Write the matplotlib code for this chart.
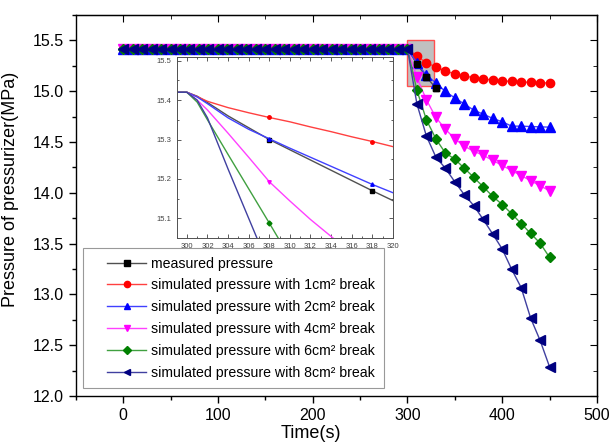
import matplotlib
matplotlib.use("Agg")
import matplotlib.pyplot as plt
from matplotlib.ticker import MultipleLocator
from matplotlib.patches import Rectangle
from matplotlib.legend_handler import HandlerLine2D

plt.rcParams['font.family'] = ['Liberation Sans', 'DejaVu Sans']

# ---------------- data ----------------
steady_time = [0, 10, 20, 30, 40, 50, 60, 70, 80, 90, 100, 110, 120, 130, 140, 150,
               160, 170, 180, 190, 200, 210, 220, 230, 240, 250, 260, 270, 280, 290, 300]
steady_pressure = [15.42, 15.42, 15.42, 15.42, 15.42, 15.42, 15.42, 15.42, 15.42, 15.42,
                   15.42, 15.42, 15.42, 15.42, 15.42, 15.42, 15.42, 15.42, 15.42, 15.42,
                   15.42, 15.42, 15.42, 15.42, 15.42, 15.42, 15.42, 15.42, 15.42, 15.42, 15.42]

measured_time = [310, 320, 330]
measured_after = [15.27, 15.141, 15.031]

break_time = [310, 320, 330, 340, 350, 360, 370, 380, 390, 400, 410, 420, 430, 440, 450]
sim_1cm = [15.346, 15.280, 15.240, 15.200, 15.171, 15.151, 15.134, 15.121, 15.111,
           15.101, 15.098, 15.091, 15.088, 15.084, 15.081]
sim_2cm = [15.280, 15.157, 15.084, 14.998, 14.935, 14.875, 14.814, 14.775, 14.733,
           14.700, 14.657, 14.657, 14.653, 14.650, 14.647]
sim_4cm = [15.136, 14.917, 14.743, 14.627, 14.532, 14.460, 14.410, 14.370, 14.320,
           14.270, 14.220, 14.170, 14.120, 14.070, 14.020]
sim_6cm = [15.010, 14.720, 14.532, 14.393, 14.332, 14.243, 14.153, 14.059, 13.966,
           13.885, 13.795, 13.698, 13.601, 13.505, 13.365]
sim_8cm = [14.876, 14.560, 14.353, 14.243, 14.109, 13.982, 13.875, 13.738, 13.595,
           13.448, 13.248, 13.068, 12.768, 12.548, 12.287]

# inset (zoom of 299-320 s)
inset_time = [299, 300, 301, 302, 304, 306, 308, 310, 312, 314, 316, 318, 320]
inset_measured = [15.42, 15.42, 15.41, 15.394, 15.36, 15.33, 15.300, 15.274, 15.248,
                  15.222, 15.196, 15.170, 15.145]
inset_1cm = [15.42, 15.42, 15.409, 15.397, 15.381, 15.368, 15.356, 15.345, 15.332,
             15.320, 15.307, 15.295, 15.282]
inset_2cm = [15.42, 15.42, 15.408, 15.391, 15.355, 15.326, 15.302, 15.278, 15.255,
             15.232, 15.209, 15.186, 15.165]
inset_4cm = [15.42, 15.42, 15.400, 15.375, 15.316, 15.255, 15.193, 15.144, 15.097,
             15.054, 15.012, 14.970, 14.930]
inset_6cm = [15.42, 15.42, 15.395, 15.350, 15.262, 15.175, 15.088, 15.000, 14.915,
             14.830, 14.745, 14.660, 14.575]
inset_8cm = [15.42, 15.42, 15.400, 15.355, 15.225, 15.100, 14.975, 14.850, 14.725,
             14.600, 14.475, 14.350, 14.225]

labels = ["measured pressure",
          "simulated pressure with 1cm\u00b2 break",
          "simulated pressure with 2cm\u00b2 break",
          "simulated pressure with 4cm\u00b2 break",
          "simulated pressure with 6cm\u00b2 break",
          "simulated pressure with 8cm\u00b2 break"]
colors = ["#000000", "#ff0000", "#0000ff", "#ff00ff", "#008000", "#000080"]
line_colors = ["#505050", "#ff4040", "#4040ff", "#ff40ff", "#40a040", "#4040a0"]
markers = ["s", "o", "^", "v", "D", "<"]
msizes = [5, 6, 6.5, 6.5, 5, 6.5]

# ---------------- figure ----------------
fig = plt.figure(figsize=(6.11, 4.44), dpi=100)
ax = fig.add_axes([0.124, 0.108, 0.853, 0.858])

ax.add_patch(Rectangle((300, 15.05), 28, 0.45, facecolor="#c0c0c0",
                       edgecolor="#ff5050", linewidth=1.0, zorder=1))

series = [(measured_time, measured_after), (break_time, sim_1cm), (break_time, sim_2cm),
          (break_time, sim_4cm), (break_time, sim_6cm), (break_time, sim_8cm)]
handles = []
for i, (tt, vv) in enumerate(series):
    xs = steady_time + tt
    ys = steady_pressure + vv
    h, = ax.plot(xs, ys, color=line_colors[i], linewidth=1.0, marker=markers[i],
                 markersize=msizes[i], markerfacecolor=colors[i], markeredgecolor=colors[i],
                 label=labels[i], zorder=3 + i)
    handles.append(h)
# measured points after the break sit on top of the simulated curves
ax.plot(measured_time, measured_after, linestyle="none", marker=markers[0],
        markersize=msizes[0], color=colors[0], zorder=10)

ax.set_xlim(-50, 500)
ax.set_ylim(12.0, 15.75)
ax.xaxis.set_major_locator(MultipleLocator(100))
ax.xaxis.set_minor_locator(MultipleLocator(50))
ax.yaxis.set_major_locator(MultipleLocator(0.5))
ax.yaxis.set_minor_locator(MultipleLocator(0.25))
ax.tick_params(which="both", direction="out", labelsize=11.5, width=1.0)
ax.tick_params(which="major", length=5)
ax.tick_params(which="minor", length=3)
ax.tick_params(top=False, right=False)
for s in ax.spines.values():
    s.set_linewidth(1.0)

secx = ax.secondary_xaxis("top")
secx.xaxis.set_major_locator(MultipleLocator(100))
secx.xaxis.set_minor_locator(MultipleLocator(50))
secx.tick_params(which="both", direction="in", labeltop=False)
secx.tick_params(which="major", length=5)
secx.tick_params(which="minor", length=3)
secy = ax.secondary_yaxis("right")
secy.yaxis.set_major_locator(MultipleLocator(0.5))
secy.yaxis.set_minor_locator(MultipleLocator(0.25))
secy.tick_params(which="both", direction="in", labelright=False)
secy.tick_params(which="major", length=5)
secy.tick_params(which="minor", length=3)

ax.set_xlabel("Time(s)", fontsize=13, labelpad=0)
ax.set_ylabel("Pressure of pressurizer(MPa)", fontsize=13)
ax.xaxis.set_label_coords(0.451, -0.075)
ax.yaxis.set_label_coords(-0.108, 0.543)

leg = ax.legend(handles=handles, loc="lower left", bbox_to_anchor=(0.013, 0.021),
                borderaxespad=0, fontsize=10.2, frameon=True, fancybox=False,
                edgecolor="#808080", handlelength=3.9, labelspacing=0.55,
                handletextpad=0.35, borderpad=0.6, markerscale=0.75,
                handler_map={h: HandlerLine2D(xpad=1.15) for h in handles})
leg.get_frame().set_linewidth(0.8)

# ---------------- inset ----------------
axin = fig.add_axes([0.289, 0.464, 0.354, 0.408])
inset_series = [inset_measured, inset_1cm, inset_2cm, inset_4cm, inset_6cm, inset_8cm]
for i, vv in enumerate(inset_series):
    axin.plot(inset_time, vv, color=line_colors[i], linewidth=1.0, marker=markers[i],
              markersize=2.5, markerfacecolor=colors[i], markeredgecolor=colors[i],
              markevery=[6, 11])
axin.set_xlim(299, 320)
axin.set_ylim(15.05, 15.51)
axin.xaxis.set_major_locator(MultipleLocator(2))
axin.xaxis.set_minor_locator(MultipleLocator(1))
axin.yaxis.set_major_locator(MultipleLocator(0.1))
axin.yaxis.set_minor_locator(MultipleLocator(0.05))
axin.tick_params(which="both", direction="in", top=True, right=True,
                 labelsize=5.5, labelcolor="#404040", width=0.6, color="#404040")
axin.tick_params(which="major", length=3)
axin.tick_params(which="minor", length=1.5)
for s in axin.spines.values():
    s.set_linewidth(0.7)
    s.set_color("#505050")

fig.savefig("out.png", dpi=100)
